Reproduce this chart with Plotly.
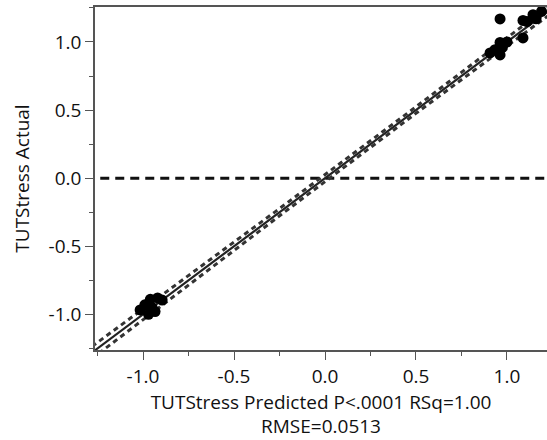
import numpy as np
import plotly.graph_objects as go

# Actual by Predicted values for TUTStress
predicted = [0.962, 1.088, 1.143, 1.190, 1.088, 0.962, 0.934, 0.962, 0.907, 0.975, 1.160, 1.000, 1.110,
             -1.016, -0.990, -0.960, -0.920, -0.895, -0.970, -0.934, -0.950]
actual = [1.169, 1.158, 1.200, 1.225, 1.030, 0.997, 0.943, 0.905, 0.920, 0.960, 1.170, 1.000, 1.150,
          -0.968, -0.930, -0.890, -0.880, -0.895, -1.000, -0.980, -0.950]

# Fit summary
slope, intercept = 1.0, 0.0
rmse = 0.0513
mean_actual = 0.0
t_crit = 2.09

x_ticks = [-1.0, -0.5, 0.0, 0.5, 1.0]
y_ticks = [-1.0, -0.5, 0.0, 0.5, 1.0]
x_range = [-1.264, 1.22]
y_range = [-1.262, 1.257]

px_arr = np.array(predicted)
n = len(px_arr)
xm = px_arr.mean()
sxx = ((px_arr - xm) ** 2).sum()
xs = np.linspace(-1.4, 1.4, 200)
fit = intercept + slope * xs
half = t_crit * rmse * np.sqrt(1.0 / n + (xs - xm) ** 2 / sxx)

FONT = "Open Sans, Noto Sans, sans-serif"
fig = go.Figure()

# mean of actual
fig.add_trace(go.Scatter(x=[-1.4, 1.4], y=[mean_actual, mean_actual], mode="lines",
                         line=dict(color="#111", width=3, dash="9px,6px"), hoverinfo="skip"))
# confidence curves
for sgn in (1, -1):
    fig.add_trace(go.Scatter(x=xs, y=fit + sgn * half, mode="lines",
                             line=dict(color="#333", width=3, dash="5px,4px"), hoverinfo="skip"))
# fit line
fig.add_trace(go.Scatter(x=xs, y=fit, mode="lines", line=dict(color="#222", width=2.2), hoverinfo="skip"))
# observations
fig.add_trace(go.Scatter(x=predicted, y=actual, mode="markers",
                         marker=dict(color="black", size=11)))

fig.update_layout(
    width=547, height=440,
    margin=dict(l=95, r=0, t=7, b=90),
    plot_bgcolor="white", paper_bgcolor="white",
    showlegend=False,
    font=dict(family=FONT, size=19, color="#111"),
)
fig.update_xaxes(
    range=x_range, tickvals=x_ticks, ticktext=[f"{v:.1f}" for v in x_ticks],
    showgrid=False, zeroline=False, showline=True, linecolor="#555", linewidth=1.5, mirror=True,
    ticks="outside", ticklen=8, tickcolor="#555",
    minor=dict(dtick=0.25, tick0=0, ticks="outside", ticklen=4, tickcolor="#555"),
    title=dict(text="TUTStress Predicted P<.0001 RSq=1.00<br>RMSE=0.0513", standoff=2,
               font=dict(size=19)),
)
fig.update_yaxes(
    range=y_range, tickvals=y_ticks, ticktext=[f"{v:.1f}" for v in y_ticks],
    showgrid=False, zeroline=False, showline=True, linecolor="#555", linewidth=1.5, mirror=False,
    ticks="outside", ticklen=8, tickcolor="#555",
    minor=dict(dtick=0.25, tick0=0, ticks="outside", ticklen=4, tickcolor="#555"),
    title=dict(text="TUTStress Actual", standoff=14, font=dict(size=19)),
)

fig.write_html("out.html")
